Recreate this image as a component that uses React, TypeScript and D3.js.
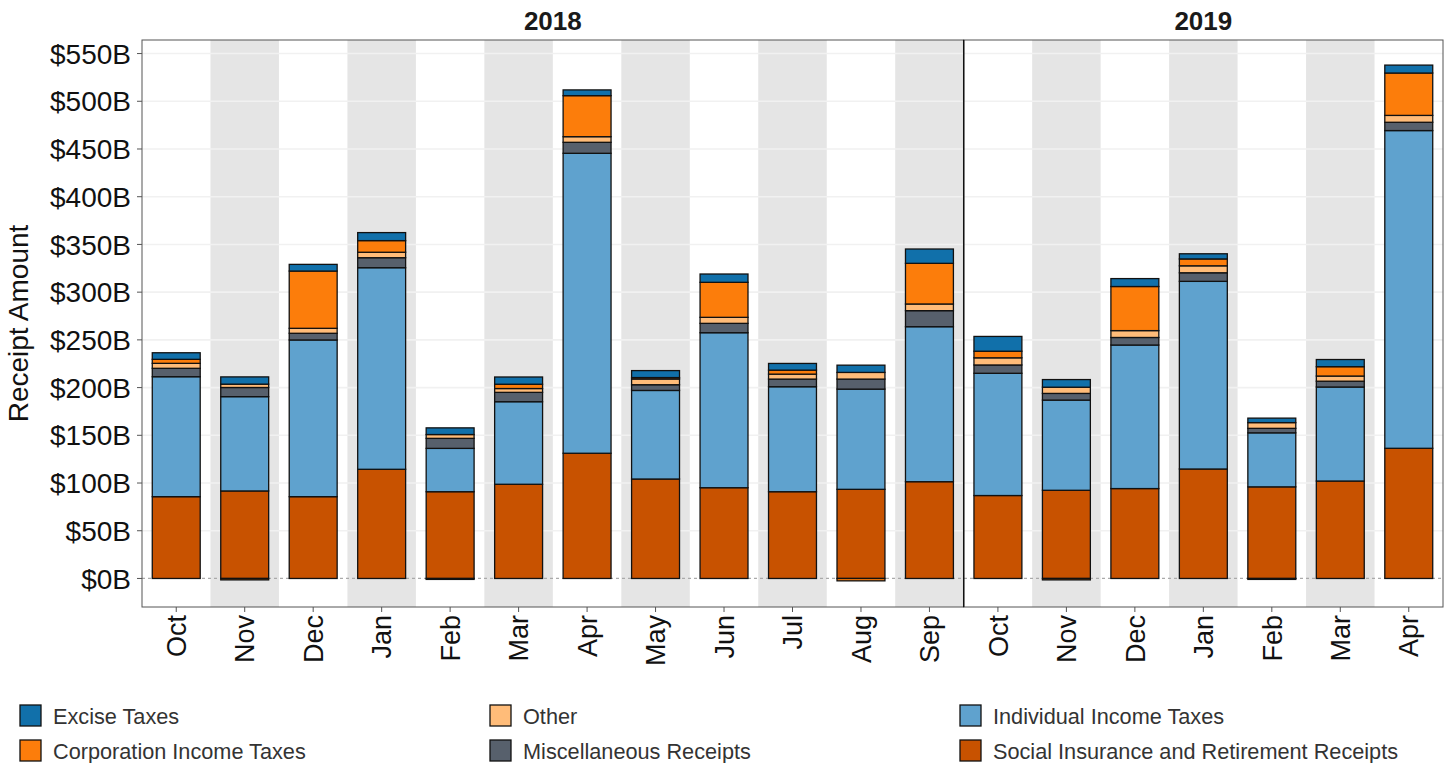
import React from 'react';
import * as d3 from 'd3';

const months = ['Oct','Nov','Dec','Jan','Feb','Mar','Apr','May','Jun','Jul','Aug','Sep','Oct','Nov','Dec','Jan','Feb','Mar','Apr'];
const years = [2018,2018,2018,2018,2018,2018,2018,2018,2018,2018,2018,2018,2019,2019,2019,2019,2019,2019,2019];
const yearLabels = [2018, 2019];

const socialInsurance = [85.7, 91.7, 85.7, 114.4, 90.9, 98.7, 131.2, 104.2, 95.1, 90.9, 93.4, 101.4, 86.9, 92.4, 94.2, 114.7, 96, 102.1, 136.4];
const individualIncome = [125.7, 98.8, 164.2, 211.2, 45.4, 86.5, 314.3, 92.8, 162.4, 110, 105, 162.4, 128.1, 94.5, 150.4, 196.6, 56.6, 98.5, 332.9];
const miscReceipts = [8.8, 9.6, 7, 10.5, 10.5, 9.8, 11.5, 6, 9.8, 8, 10.5, 16.8, 8.7, 7, 7.9, 9, 4.7, 6.1, 8.7];
const otherReceipts = [5.2, 3.5, 5.2, 5.7, 4, 4, 5.9, 6, 6.3, 5.2, 7, 7, 7.5, 6.5, 7.2, 7.3, 6, 5.4, 7.2];
const corporationIncome = [4.2, -1.5, 60, 12.2, -1, 4.5, 43, 1.5, 36.7, 4.2, -2.5, 42.6, 6.9, -1.5, 46.2, 7.2, -1, 9.8, 44.4];
const exciseTaxes = [6.9, 7.6, 7, 8.4, 7, 7.6, 6, 7.3, 8.7, 7, 7.6, 15, 15.5, 8, 8.3, 5.4, 4.7, 7.5, 8.3];

const yTicks = [0, 50, 100, 150, 200, 250, 300, 350, 400, 450, 500, 550];

const seriesKeys = [
  'Social Insurance and Retirement Receipts',
  'Individual Income Taxes',
  'Miscellaneous Receipts',
  'Other',
  'Corporation Income Taxes',
  'Excise Taxes',
];
const seriesValues = [socialInsurance, individualIncome, miscReceipts, otherReceipts, corporationIncome, exciseTaxes];
const seriesColors = ['#c85200', '#5fa2ce', '#57606c', '#ffbc79', '#fc7d0b', '#1170aa'];

const legendOrder = [
  'Excise Taxes', 'Corporation Income Taxes',
  'Other', 'Miscellaneous Receipts',
  'Individual Income Taxes', 'Social Insurance and Retirement Receipts',
];

const FONT = 'Liberation Sans, Arial, Helvetica, sans-serif';

export default function App() {
  const W = 1450, H = 763;
  const pL = 142, pR = 1443, pT = 40, pB = 607;
  const ids = months.map((m, i) => `${years[i]}-${m}-${i}`);
  const x = d3.scaleBand<string>().domain(ids).range([pL, pR]).padding(0);
  const y = d3.scaleLinear().domain([-29.9, 564.2]).range([pB, pT]);
  const bw = x.bandwidth() * 0.7;

  const rows = ids.map((id, i) => {
    const r: any = { id };
    seriesKeys.forEach((k, j) => { r[k] = seriesValues[j][i]; });
    return r;
  });
  const stacked = d3.stack<any>().keys(seriesKeys).offset(d3.stackOffsetDiverging)(rows);
  const color = d3.scaleOrdinal<string, string>().domain(seriesKeys).range(seriesColors);

  const panels = yearLabels.map(yr => {
    const idx = ids.filter((_, i) => years[i] === yr);
    const x0 = x(idx[0])!;
    const x1 = x(idx[idx.length - 1])! + x.step();
    return { yr, x0, x1 };
  });

  const monthIndexInYear = ids.map((_, i) => ids.slice(0, i).filter((__, j) => years[j] === years[i]).length);

  return (
    <svg width={W} height={H} style={{ position: 'absolute', left: 0, top: 0, background: '#fff' }} fontFamily={FONT}>
      {/* stripes */}
      {ids.map((id, i) => monthIndexInYear[i] % 2 === 1 ? (
        <rect key={'s' + id} x={x(id)} y={pT} width={x.step()} height={pB - pT} fill="#e5e5e5" />
      ) : null)}
      {/* gridlines */}
      {yTicks.filter(t => t !== 0).map(t => (
        <line key={'g' + t} x1={pL} x2={pR} y1={y(t)} y2={y(t)} stroke="#f1f1f1" strokeWidth={1.6} />
      ))}
      <line x1={pL} x2={pR} y1={y(0)} y2={y(0)} stroke="#aaaaaa" strokeWidth={1.2} strokeDasharray="3,3" />
      {/* bars */}
      {stacked.map((s) => (
        <g key={s.key} fill={color(s.key)}>
          {s.map((d, i) => {
            const y0 = y(d[0]), y1 = y(d[1]);
            const h = Math.abs(y0 - y1);
            if (h < 0.01) return null;
            return (
              <rect key={i} x={x(ids[i])! + (x.bandwidth() - bw) / 2} y={Math.min(y0, y1)} width={bw} height={h}
                stroke="#111" strokeWidth={1.3} />
            );
          })}
        </g>
      ))}
      {/* panel borders */}
      {panels.map(p => (
        <rect key={'p' + p.yr} x={p.x0} y={pT} width={p.x1 - p.x0} height={pB - pT} fill="none" stroke="#555" strokeWidth={1} />
      ))}
      <line x1={panels[0].x1} x2={panels[0].x1} y1={pT} y2={pB} stroke="#111" strokeWidth={1.4} />
      {/* strip labels */}
      {panels.map(p => (
        <text key={'t' + p.yr} x={(p.x0 + p.x1) / 2} y={30} textAnchor="middle" fontWeight="bold" fontSize={26} fill="#1a1a1a">{p.yr}</text>
      ))}
      {/* y axis */}
      {yTicks.map(t => (
        <g key={'yt' + t}>
          <line x1={pL - 5} x2={pL} y1={y(t)} y2={y(t)} stroke="#555" strokeWidth={1} />
          <text x={pL - 11} y={y(t)} dy="0.36em" textAnchor="end" fontSize={28} fill="#111">{`$${t}B`}</text>
        </g>
      ))}
      <text transform={`translate(28,${(pT + pB) / 2}) rotate(-90)`} textAnchor="middle" fontSize={28} fill="#111">Receipt Amount</text>
      {/* x axis */}
      {ids.map((id, i) => {
        const cx = x(id)! + x.bandwidth() / 2;
        return (
          <g key={'xt' + id}>
            <line x1={cx} x2={cx} y1={pB} y2={pB + 5} stroke="#555" strokeWidth={1} />
            <text transform={`translate(${cx},${pB + 8}) rotate(-90)`} dy="0.36em" textAnchor="end" fontSize={27} fill="#111">{months[i]}</text>
          </g>
        );
      })}
      {/* legend */}
      {legendOrder.map((k, i) => {
        const col = Math.floor(i / 2), row = i % 2;
        const lx = 20 + col * 470, ly = 705 + row * 35;
        return (
          <g key={'l' + k}>
            <rect x={lx} y={ly} width={21} height={21} fill={color(k)} stroke="#111" strokeWidth={1.3} />
            <text x={lx + 33} y={ly + 11} dy="0.36em" fontSize={21.7} fill="#333">{k}</text>
          </g>
        );
      })}
    </svg>
  );
}
